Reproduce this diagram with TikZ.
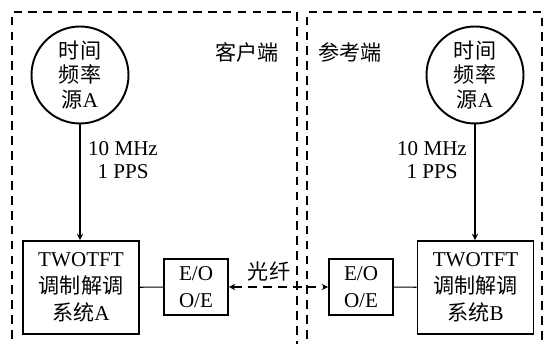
\documentclass[tikz,border=0pt]{standalone}
\usepackage{fontspec}
\setmainfont{Liberation Serif}
\newfontfamily\cjk{Noto Sans CJK SC}
\usetikzlibrary{arrows,positioning,calc}

\begin{document}
\begin{tikzpicture}[
      zone/.style={draw, line width=0.6pt, dash pattern=on 5pt off 3.5pt},
      src/.style={draw, circle, line width=1.1pt, minimum size=1.94cm, inner sep=0pt, align=center, font=\fontsize{12}{14}\selectfont},
      sys/.style={draw, line width=1.1pt, minimum width=2.32cm, minimum height=1.86cm, align=center, font=\fontsize{12}{15.5}\selectfont},
      conv/.style={draw, line width=1.1pt, minimum width=1.28cm, minimum height=1.12cm, inner sep=0pt, align=center, font=\fontsize{12}{15.5}\selectfont},
      lbl/.style={align=center, font=\fontsize{12}{13}\selectfont},
      arr/.style={->, >=stealth, line width=0.6pt}
    ]
    \useasboundingbox (0,0) rectangle (10.88,6.88);
    % client and reference sides
    \draw[zone] (0.24,-0.2) -- (0.24,6.64) -- (5.94,6.64) -- (5.94,-0.2);
    \draw[zone] (6.14,-0.2) -- (6.14,6.64) -- (10.84,6.64) -- (10.84,-0.2);
    \node[lbl] (client) at (4.94,5.84) {\cjk 客户端};
    \node[lbl] (ref) at (7.0,5.84) {\cjk 参考端};
    % clocks
    \node[src] (srcA) at (1.6,5.38) {{\cjk 时间}\\{\cjk 频率}\\{\cjk 源}A};
    \node[src] (srcB) at (9.5,5.38) {{\cjk 时间}\\{\cjk 频率}\\{\cjk 源}A};
    % modems
    \node[sys] (sysA) at (1.62,1.13) {TWOTFT\\{\cjk 调制解调}\\{\cjk 系统}A};
    \node[sys] (sysB) at (9.51,1.13) {TWOTFT\\{\cjk 调制解调}\\{\cjk 系统}B};
    \node[conv] (eoA) at (3.92,1.14) {E/O\\O/E};
    \node[conv] (eoB) at (7.22,1.14) {E/O\\O/E};
    \node[lbl] (refA) at (2.46,3.68) {10 MHz\\1 PPS};
    \node[lbl] (refB) at (8.64,3.68) {10 MHz\\1 PPS};
    \node[lbl] (fiber) at (5.38,1.46) {\cjk 光纤};
    \draw[arr] (srcA.south) -- (srcA.south |- sysA.north);
    \draw[arr] (srcB.south) -- (srcB.south |- sysB.north);
    \draw[line width=0.6pt] (sysA) -- (eoA); \draw[line width=0.6pt] (eoB) -- (sysB);
    \draw[arr, <->, dash pattern=on 5pt off 3.5pt] (eoA) -- (eoB);
  \end{tikzpicture}
\end{document}
